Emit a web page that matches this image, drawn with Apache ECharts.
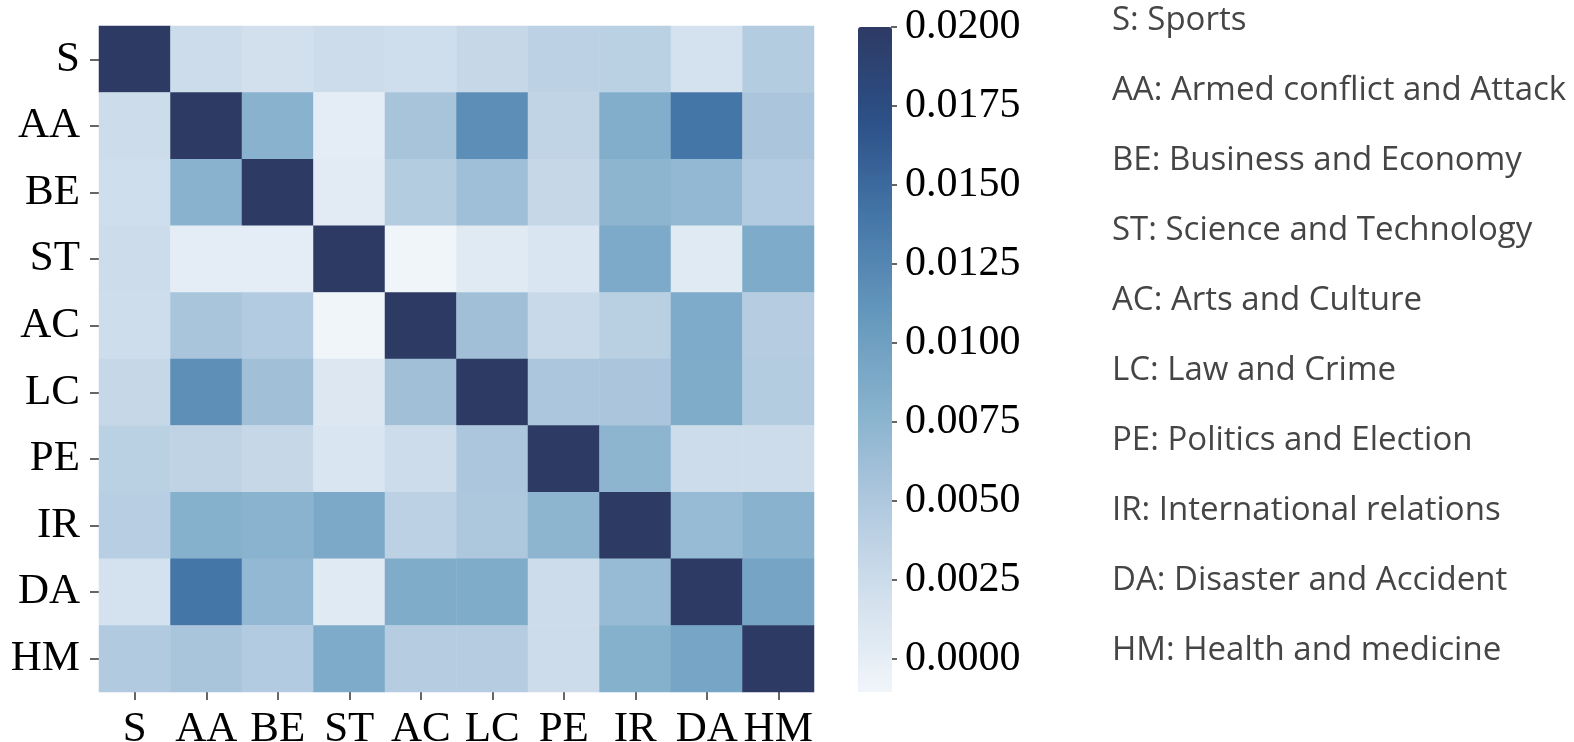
<!DOCTYPE html>
<html>
<head>
<meta charset="utf-8">
<script src="https://cdn.jsdelivr.net/npm/echarts@6/dist/echarts.min.js"></script>
<style>
html,body{margin:0;padding:0;background:#fff;}
#main{width:1574px;height:742px;}
</style>
</head>
<body>
<div id="main"></div>
<script>
const categories = ['S','AA','BE','ST','AC','LC','PE','IR','DA','HM'];
const legendLabels = [
  'S: Sports',
  'AA: Armed conflict and Attack',
  'BE: Business and Economy',
  'ST: Science and Technology',
  'AC: Arts and Culture',
  'LC: Law and Crime',
  'PE: Politics and Election',
  'IR: International relations',
  'DA: Disaster and Accident',
  'HM: Health and medicine'
];
const colorbarTicks = [0, 0.0025, 0.005, 0.0075, 0.01, 0.0125, 0.015, 0.0175, 0.02];
const colorMin = -0.00104;
const colorMax = 0.02;
// rows (top to bottom) x columns (left to right)
const rowS  = [0.0200, 0.0025, 0.0020, 0.0025, 0.0022, 0.0030, 0.0038, 0.0040, 0.0018, 0.0045];
const rowAA = [0.0025, 0.0200, 0.0078, 0.0002, 0.0055, 0.0118, 0.0035, 0.0083, 0.0140, 0.0053];
const rowBE = [0.0022, 0.0078, 0.0200, 0.0004, 0.0045, 0.0062, 0.0030, 0.0074, 0.0070, 0.0046];
const rowST = [0.0025, 0.0002, 0.0002, 0.0200, -0.00104, 0.0006, 0.0013, 0.0088, 0.0006, 0.0087];
const rowAC = [0.0024, 0.0054, 0.0046, -0.00104, 0.0200, 0.0060, 0.0028, 0.0041, 0.0087, 0.0044];
const rowLC = [0.0030, 0.0117, 0.0060, 0.0010, 0.0060, 0.0200, 0.0052, 0.0053, 0.0086, 0.0045];
const rowPE = [0.0040, 0.0036, 0.0030, 0.0013, 0.0025, 0.0052, 0.0200, 0.0074, 0.0025, 0.0025];
const rowIR = [0.0042, 0.0080, 0.0077, 0.0089, 0.0038, 0.0051, 0.0075, 0.0200, 0.0067, 0.0078];
const rowDA = [0.0018, 0.0140, 0.0070, 0.0006, 0.0086, 0.0086, 0.0025, 0.0067, 0.0200, 0.0095];
const rowHM = [0.0047, 0.0054, 0.0046, 0.0087, 0.0044, 0.0044, 0.0025, 0.0080, 0.0094, 0.0200];
const matrix = [rowS, rowAA, rowBE, rowST, rowAC, rowLC, rowPE, rowIR, rowDA, rowHM];

const data = [];
matrix.forEach((row, yi) => row.forEach((v, xi) => data.push([xi, yi, v])));

const serif = '"Liberation Serif", "Times New Roman", serif';
const chart = echarts.init(document.getElementById('main'), null, {renderer: 'canvas'});

const graphics = legendLabels.map((t, i) => ({
  type: 'text',
  x: 1112,
  y: 21 + i * 70,
  style: {text: t, fill: '#454545', font: '33px "Open Sans", Lato, sans-serif', verticalAlign: 'middle', align: 'left'}
}));

chart.setOption({
  animation: false,
  backgroundColor: '#fff',
  grid: [
    {left: 99, top: 26, width: 715, height: 666, outerBoundsMode: 'none', containLabel: false},
    {left: 891, top: 27, width: 1, height: 665, outerBoundsMode: 'none', containLabel: false}
  ],
  xAxis: [
    {type: 'category', data: categories, gridIndex: 0, position: 'bottom',
     axisLine: {show: false}, splitLine: {show: false},
     axisTick: {show: true, length: 8, alignWithLabel: true, lineStyle: {color: '#333', width: 1.5}},
     axisLabel: {interval: 0, hideOverlap: false, margin: 16, color: '#000', fontFamily: serif, fontSize: 43}},
    {type: 'value', gridIndex: 1, show: false}
  ],
  yAxis: [
    {type: 'category', data: categories, gridIndex: 0, inverse: true,
     axisLine: {show: false}, splitLine: {show: false},
     axisTick: {show: true, length: 9, alignWithLabel: true, lineStyle: {color: '#333', width: 1.5}},
     axisLabel: {interval: 0, margin: 19, color: '#000', fontFamily: serif, fontSize: 43}},
    {type: 'value', gridIndex: 1, position: 'right', min: colorMin, max: colorMax,
     axisLine: {show: false}, splitLine: {show: false},
     axisTick: {show: true, length: 6, customValues: colorbarTicks, lineStyle: {color: '#333', width: 1.5}},
     axisLabel: {show: true, margin: 13, customValues: colorbarTicks, color: '#000', fontFamily: serif, fontSize: 42,
       formatter: v => v.toFixed(4)}}
  ],
  visualMap: {
    type: 'continuous',
    min: colorMin, max: colorMax,
    seriesIndex: 0,
    left: 858, top: 27,
    padding: 0,
    itemWidth: 34, itemHeight: 665,
    text: ['', ''],
    showLabel: false,
    calculable: false,
    realtime: false,
    hoverLink: false,
    inRange: {color: ['#F0F5FA', '#D2E0ED', '#AFC8DE', '#86B1CD', '#6497BC', '#4576A8', '#2C5188', '#2D3A64']}
  },
  series: [{
    type: 'heatmap',
    xAxisIndex: 0, yAxisIndex: 0,
    data: data,
    itemStyle: {borderWidth: 0},
    emphasis: {disabled: true}
  }],
  graphic: graphics
});
</script>
</body>
</html>
